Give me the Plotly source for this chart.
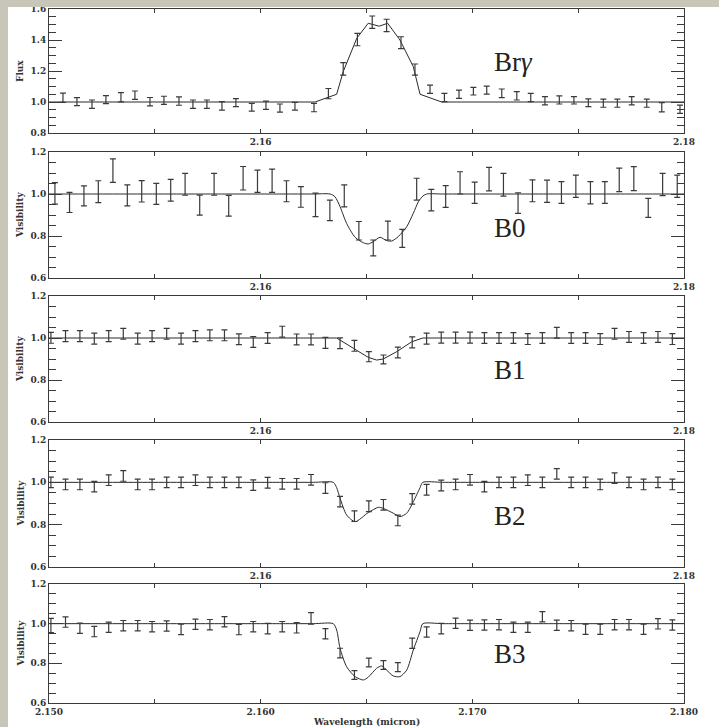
import plotly.graph_objects as go

W, H = 719, 727

# ---------------- data ----------------
wl_bry = [2.15066, 2.15132, 2.15203, 2.15269, 2.15340, 2.15406, 2.15477, 2.15543, 2.15614, 2.15680,
          2.15746, 2.15817, 2.15883, 2.15958, 2.16025, 2.16091, 2.16162, 2.16252, 2.16320, 2.16390,
          2.16457, 2.16527, 2.16595, 2.16663, 2.16729, 2.16800, 2.16868, 2.16937, 2.17005, 2.17068,
          2.17139, 2.17210, 2.17276, 2.17343, 2.17411, 2.17480, 2.17548, 2.17619, 2.17685, 2.17753,
          2.17824, 2.17895, 2.17981]
flux_bry = [1.027, 1.002, 0.986, 1.015, 1.031, 1.044, 1.002, 1.011, 1.006, 0.986,
            0.986, 0.975, 0.996, 0.966, 0.979, 0.961, 0.973, 0.964, 1.054, 1.214,
            1.403, 1.515, 1.494, 1.383, 1.209, 1.082, 1.029, 1.050, 1.070, 1.077,
            1.056, 1.040, 1.029, 1.008, 1.013, 1.011, 0.995, 0.992, 0.992, 1.008,
            0.992, 0.966, 0.953]
err_bry = [0.030, 0.026, 0.027, 0.026, 0.030, 0.027, 0.027, 0.026, 0.027, 0.027,
           0.027, 0.027, 0.026, 0.025, 0.027, 0.026, 0.025, 0.027, 0.033, 0.040,
           0.040, 0.040, 0.040, 0.038, 0.036, 0.027, 0.027, 0.027, 0.025, 0.026,
           0.028, 0.027, 0.027, 0.027, 0.026, 0.024, 0.025, 0.026, 0.026, 0.027,
           0.026, 0.030, 0.027]
model_wl_bry = [2.150, 2.16257, 2.16359, 2.16390, 2.16454, 2.16508, 2.16560, 2.16600, 2.16658,
                2.16721, 2.16753, 2.16855, 2.180]
model_bry = [1.0, 1.0, 1.050, 1.196, 1.411, 1.508, 1.489, 1.508, 1.400, 1.228, 1.050, 1.0, 1.0]

wl_b0 = [2.15028, 2.15097, 2.15165, 2.15233, 2.15302, 2.15370, 2.15438, 2.15507, 2.15575, 2.15643,
         2.15712, 2.15780, 2.15849, 2.15917, 2.15985, 2.16054, 2.16122, 2.16190, 2.16259, 2.16327,
         2.16395, 2.16464, 2.16532, 2.16601, 2.16669, 2.16737, 2.16806, 2.16874, 2.16942, 2.17011,
         2.17079, 2.17147, 2.17216, 2.17284, 2.17353, 2.17421, 2.17489, 2.17558, 2.17626, 2.17694,
         2.17763, 2.17831, 2.17899, 2.17968]
vis_b0 = [1.003, 0.960, 0.991, 1.011, 1.111, 0.993, 1.013, 1.001, 1.018, 1.046,
          0.947, 1.046, 0.944, 1.075, 1.061, 1.063, 1.013, 0.986, 0.948, 0.922,
          0.991, 0.825, 0.743, 0.826, 0.789, 1.023, 0.971, 0.988, 1.053, 1.006,
          1.071, 1.044, 0.957, 1.015, 1.013, 1.007, 1.037, 1.006, 1.007, 1.067,
          1.073, 0.934, 1.045, 1.037]
err_b0 = [0.051, 0.048, 0.048, 0.052, 0.056, 0.050, 0.051, 0.050, 0.052, 0.052,
          0.048, 0.052, 0.049, 0.056, 0.053, 0.055, 0.050, 0.049, 0.056, 0.049,
          0.052, 0.044, 0.038, 0.045, 0.043, 0.052, 0.051, 0.052, 0.053, 0.051,
          0.056, 0.054, 0.049, 0.052, 0.053, 0.052, 0.053, 0.053, 0.052, 0.056,
          0.057, 0.045, 0.053, 0.053]
model_wl_b0 = [2.150, 2.154, 2.158, 2.161, 2.1625, 2.16328, 2.16351, 2.16375, 2.16406, 2.16446,
               2.16485, 2.16508, 2.16532, 2.16564, 2.16595, 2.16619, 2.16650, 2.16690, 2.16721,
               2.16745, 2.16766, 2.16784, 2.1686, 2.170, 2.174, 2.177, 2.180]
model_b0 = [1.0, 1.0, 1.0, 1.0, 1.0, 1.0, 0.987, 0.940, 0.860, 0.794,
            0.768, 0.762, 0.773, 0.794, 0.778, 0.776, 0.797, 0.844, 0.908,
            0.963, 0.990, 1.0, 1.0, 1.0, 1.0, 1.0, 1.0]

wl_b123 = [2.15009, 2.15078, 2.15146, 2.15214, 2.15282, 2.15351, 2.15419, 2.15487, 2.15556, 2.15624,
           2.15692, 2.15760, 2.15829, 2.15897, 2.15965, 2.16033, 2.16102, 2.16170, 2.16238, 2.16306,
           2.16375, 2.16443, 2.16511, 2.16580, 2.16648, 2.16716, 2.16784, 2.16853, 2.16921, 2.16989,
           2.17057, 2.17126, 2.17194, 2.17262, 2.17331, 2.17399, 2.17467, 2.17535, 2.17604, 2.17672,
           2.17740, 2.17809, 2.17877, 2.17945]

vis_b1 = [1.001, 1.009, 1.009, 0.997, 1.009, 1.020, 0.997, 1.009, 1.020, 0.997,
          1.009, 1.013, 1.013, 0.994, 0.981, 1.000, 1.030, 0.993, 0.993, 0.977,
          0.975, 0.963, 0.911, 0.898, 0.931, 0.979, 0.997, 1.002, 1.002, 1.002,
          1.000, 1.000, 1.000, 0.995, 1.000, 1.025, 1.000, 1.000, 0.995, 1.020,
          1.005, 1.000, 1.005, 0.995]
err_b1 = [0.026] * 22 + [0.024, 0.021] + [0.026] * 20
model_wl_b1 = [2.150, 2.16359, 2.16438, 2.16508, 2.16548, 2.16579, 2.16643, 2.16714, 2.16766, 2.180]
model_b1 = [1.0, 1.0, 0.951, 0.908, 0.895, 0.900, 0.935, 0.982, 1.0, 1.0]

vis_b2 = [1.000, 0.990, 0.990, 0.980, 1.010, 1.030, 0.990, 0.990, 1.000, 1.000,
          1.010, 1.000, 1.000, 1.000, 0.987, 0.998, 0.993, 0.993, 1.012, 0.973,
          0.909, 0.840, 0.887, 0.894, 0.820, 0.922, 0.965, 0.985, 0.990, 1.012,
          0.980, 1.000, 1.000, 1.010, 1.000, 1.040, 1.000, 1.000, 0.990, 1.020,
          1.000, 0.990, 1.000, 0.990]
err_b2 = [0.025] * 44
model_wl_b2 = [2.150, 2.154, 2.158, 2.161, 2.1625, 2.16343, 2.16359, 2.16375, 2.16406, 2.16446,
               2.16508, 2.16556, 2.16579, 2.16627, 2.16658, 2.16690, 2.16721, 2.16753, 2.16766,
               2.1686, 2.170, 2.174, 2.177, 2.180]
model_b2 = [1.0, 1.0, 1.0, 1.0, 1.0, 1.0, 0.975, 0.925, 0.846, 0.814,
            0.857, 0.882, 0.877, 0.854, 0.838, 0.854, 0.908, 0.975, 1.0,
            1.0, 1.0, 1.0, 1.0, 1.0]

vis_b3 = [0.991, 1.008, 0.977, 0.960, 0.982, 0.990, 0.990, 0.985, 0.988, 0.971,
          0.997, 0.995, 1.010, 0.970, 0.985, 0.975, 0.985, 0.979, 1.027, 0.949,
          0.852, 0.741, 0.804, 0.792, 0.781, 0.901, 0.958, 0.975, 1.002, 0.992,
          0.993, 0.995, 0.982, 0.982, 1.035, 0.992, 0.990, 0.972, 0.972, 0.995,
          0.995, 0.972, 0.999, 0.993]
err_b3 = [0.036] + [0.026] * 17 + [0.029, 0.026, 0.024, 0.022, 0.022, 0.022, 0.023] + [0.026] * 19
model_wl_b3 = [2.150, 2.154, 2.158, 2.161, 2.1625, 2.16343, 2.16359, 2.16375, 2.16406, 2.16446,
               2.16485, 2.16508, 2.16548, 2.16572, 2.16595, 2.16627, 2.16658, 2.16690, 2.16721,
               2.16753, 2.16766, 2.1686, 2.170, 2.174, 2.177, 2.180]
model_b3 = [1.0, 1.0, 1.0, 1.0, 1.0, 1.0, 0.968, 0.876, 0.783, 0.733,
            0.716, 0.730, 0.775, 0.787, 0.766, 0.736, 0.733, 0.766, 0.867,
            0.960, 1.0, 1.0, 1.0, 1.0, 1.0, 1.0]

panel_labels = ["Br<i>\u03b3</i>", "B0", "B1", "B2", "B3"]
y_titles = ["Flux", "Visibility", "Visibility", "Visibility", "Visibility"]
y_ranges = [[0.8, 1.6], [0.6, 1.2], [0.6, 1.2], [0.6, 1.2], [0.6, 1.2]]
x_title = "Wavelength (micron)"

# -------------- layout geometry (pixels) --------------
X_LEFT, X_RIGHT = 49, 684
panel_px = [(9, 133), (152, 278), (296, 422), (440, 567), (584, 703)]
label_py = [62, 228, 370, 516, 654]

INK = "#2a2a2a"
AXC = "#3a3a3a"
TICKFONT = dict(family="DejaVu Serif", size=9, color="#333333", weight=700)

series = [
    (wl_bry, flux_bry, err_bry, model_wl_bry, model_bry, "linear"),
    (wl_b0, vis_b0, err_b0, model_wl_b0, model_b0, "spline"),
    (wl_b123, vis_b1, err_b1, model_wl_b1, model_b1, "linear"),
    (wl_b123, vis_b2, err_b2, model_wl_b2, model_b2, "spline"),
    (wl_b123, vis_b3, err_b3, model_wl_b3, model_b3, "spline"),
]

fig = go.Figure()
annotations = []
layout = dict(
    width=W, height=H,
    margin=dict(l=0, r=0, t=0, b=0),
    paper_bgcolor="white", plot_bgcolor="white",
    showlegend=False,
)

xt_vals = [2.150, 2.155, 2.160, 2.165, 2.170, 2.175, 2.180]
xt_upper = ["", "", "2.16", "", "", "", "2.18"]
xt_lower = ["2.150", "", "2.160", "", "2.170", "", "2.180"]

for i, (wl, val, err, mwl, mv, shape) in enumerate(series):
    n = i + 1
    xa = "x" if n == 1 else f"x{n}"
    ya = "y" if n == 1 else f"y{n}"
    fig.add_trace(go.Scatter(
        x=mwl, y=mv, mode="lines", xaxis=xa, yaxis=ya,
        line=dict(color=INK, width=1, shape=shape, smoothing=0.7),
        hoverinfo="skip"))
    fig.add_trace(go.Scatter(
        x=wl, y=val, mode="markers", xaxis=xa, yaxis=ya,
        marker=dict(size=1, color="rgba(0,0,0,0)"),
        error_y=dict(type="data", array=err, visible=True, width=3,
                     thickness=1.2, color="#3a3a3a")))
    top, bot = panel_px[i]
    dom_y = [1 - bot / H, 1 - top / H]
    key_x = "xaxis" if n == 1 else f"xaxis{n}"
    key_y = "yaxis" if n == 1 else f"yaxis{n}"
    layout[key_x] = dict(
        domain=[X_LEFT / W, X_RIGHT / W], anchor=ya, range=[2.150, 2.180],
        tickmode="array", tickvals=xt_vals,
        ticktext=xt_lower if n == 5 else xt_upper,
        ticks="inside", ticklen=4, tickwidth=1, tickcolor=AXC,
        showline=True, linecolor=AXC, linewidth=1, mirror="allticks",
        showgrid=False, zeroline=False, tickfont=TICKFONT, automargin=False)
    layout[key_y] = dict(
        domain=dom_y, anchor=xa, range=y_ranges[i],
        tickmode="linear", tick0=0.6, dtick=0.2, tickformat=".1f",
        ticks="inside", ticklen=13, tickwidth=1, tickcolor=AXC,
        minor=dict(dtick=0.05, tick0=0.6, ticks="inside", ticklen=7,
                   tickwidth=1, tickcolor=AXC, showgrid=False),
        showline=True, linecolor=AXC, linewidth=1, mirror="allticks",
        showgrid=False, zeroline=False, tickfont=TICKFONT, automargin=False)
    annotations.append(dict(
        text=y_titles[i], xref="paper", yref="paper",
        x=20 / W, y=1 - (top + bot) / 2 / H, textangle=-90,
        showarrow=False, xanchor="center", yanchor="middle",
        font=dict(family="DejaVu Serif", size=9, color="#333333", weight=700)))
    annotations.append(dict(
        text=panel_labels[i], xref="paper", yref="paper",
        x=492 / W, y=1 - label_py[i] / H, showarrow=False,
        xanchor="left", yanchor="middle",
        font=dict(family="Liberation Serif", size=27, color="#222222")))

annotations.append(dict(
    text=x_title, xref="paper", yref="paper", x=(X_LEFT + X_RIGHT) / 2 / W,
    y=1 - 722 / H, showarrow=False, xanchor="center", yanchor="middle",
    font=dict(family="DejaVu Serif", size=9, color="#333333", weight=700)))

BORDER = "#c8c5b9"
layout["shapes"] = [
    dict(type="rect", xref="paper", yref="paper", x0=0, x1=8 / W, y0=0, y1=1,
         fillcolor=BORDER, line=dict(width=0), layer="above"),
    dict(type="rect", xref="paper", yref="paper", x0=0, x1=1, y0=1 - 7 / H, y1=1,
         fillcolor=BORDER, line=dict(width=0), layer="above"),
]
layout["annotations"] = annotations
fig.update_layout(**layout)

page_fix = ("document.documentElement.style.margin='0';"
            "document.documentElement.style.overflow='hidden';"
            "document.body.style.margin='0';"
            "document.body.style.overflow='hidden';")
fig.write_html("out.html", post_script=page_fix)
